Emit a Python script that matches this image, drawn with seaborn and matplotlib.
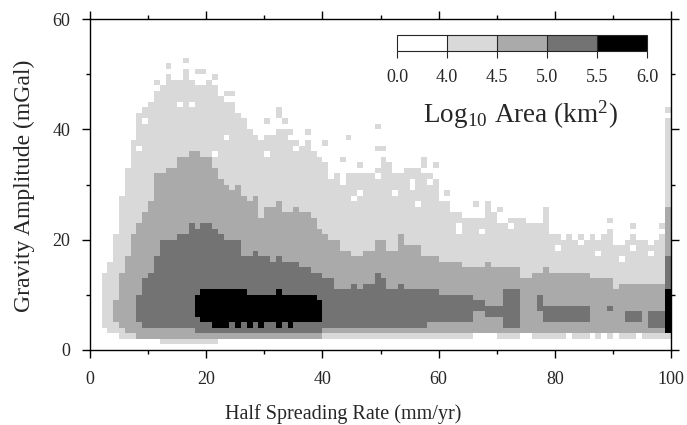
import numpy as np
import pandas as pd
import matplotlib
matplotlib.use("Agg")
import matplotlib as mpl
import matplotlib.pyplot as plt
import seaborn as sns
from matplotlib.colors import ListedColormap, BoundaryNorm

# ---------------- data ----------------
# grid: 1 mm/yr columns (0..99) x 1 mGal rows (0..59)
# per column, rows [bot, top) that reach each log10-area class
top1 = [0, 0, 14, 16, 21, 28, 33, 38, 43, 44, 45, 47, 48, 50, 49, 49, 51, 49, 48, 48,
        49, 48, 46, 45, 45, 43, 42, 40, 39, 39, 39, 39, 40, 40, 38, 38, 37, 38, 36, 35,
        34, 32, 32, 32, 32, 32, 32, 32, 32, 33, 35, 34, 32, 32, 33, 33, 33, 32, 32, 31,
        27, 27, 25, 25, 24, 24, 24, 24, 27, 25, 23, 23, 24, 24, 24, 23, 23, 23, 26, 21,
        21, 20, 21, 20, 21, 20, 21, 20, 21, 22, 19, 19, 20, 21, 20, 20, 19, 20, 21, 42]
bot1 = [0, 0, 4, 3, 3, 2, 2, 2, 2, 2, 2, 2] + [1] * 10 + [2] * 78

top2 = [0, 0, 0, 0, 9, 14, 17, 21, 23, 25, 27, 32, 32, 33, 33, 35, 35, 36, 36, 35,
        35, 33, 31, 30, 29, 30, 28, 27, 28, 24, 26, 26, 27, 25, 25, 26, 25, 25, 24, 22,
        21, 20, 20, 18, 18, 17, 17, 18, 18, 20, 20, 18, 18, 21, 19, 19, 19, 17, 17, 17,
        16, 16, 16, 16, 15, 15, 15, 15, 16, 15, 15, 15, 15, 15, 13, 13, 14, 14, 15, 14,
        14, 14, 14, 14, 14, 14, 13, 13, 13, 13, 11, 12, 12, 12, 12, 12, 12, 12, 12, 26]
bot2 = [0, 0, 0, 0, 5, 4, 3, 3] + [2] * 32 + [3] * 60

top3 = [0, 0, 0, 0, 0, 0, 0, 0, 10, 13, 14, 17, 20, 20, 20, 21, 21, 23, 22, 23,
        23, 22, 21, 20, 20, 20, 17, 17, 18, 17, 17, 16, 17, 16, 16, 16, 15, 15, 14, 14,
        13, 13, 11, 11, 11, 12, 11, 12, 12, 14, 13, 11, 11, 12, 11, 11, 11, 11, 11, 11,
        10, 10, 10, 10, 10, 10, 9, 9, 8, 8, 8, 11, 11, 11, 0, 0, 0, 10, 8, 8,
        8, 8, 8, 8, 8, 8, 0, 0, 0, 8, 0, 0, 7, 7, 7, 0, 7, 7, 7, 17]
bot3 = [0] * 8 + [5] + [4] * 9 + [3] * 22 + [4] * 18 + [5] * 8 + [7, 7, 6, 6, 6, 4, 4, 4,
        0, 0, 0, 7] + [5] * 8 + [0, 0, 0, 7, 0, 0, 5, 5, 5, 0, 4, 4, 4, 3]

top4 = [0] * 18 + [10, 11, 11, 11, 11, 11, 11, 11, 11, 10, 10, 10, 10, 10, 11, 10, 10, 10,
                   10, 10, 10, 9] + [0] * 59 + [11]
bot4 = [0] * 18 + [6, 5, 5, 4, 4, 4, 5, 4, 5, 4, 5, 4, 5, 5, 4, 5, 4, 5,
                   5, 5, 5, 5] + [0] * 59 + [3]

# isolated 4.0-4.5 cells above the envelope and empty cells inside it (column, row)
extra_cells = [(11, 48), (13, 51), (16, 52), (18, 50), (19, 50), (21, 49), (23, 46), (24, 46),
               (30, 41), (32, 42), (32, 43), (33, 41), (34, 39), (37, 39), (40, 37), (44, 38),
               (49, 40), (49, 36), (43, 34), (46, 33), (50, 36), (57, 34), (57, 33), (59, 33),
               (61, 28), (66, 26), (70, 25), (78, 25), (89, 23), (93, 22), (98, 22), (99, 43)]
empty_cells = [(8, 36), (9, 41), (15, 44), (17, 44), (21, 35), (23, 38), (29, 38), (30, 35),
               (35, 36), (41, 31), (43, 30), (43, 31), (45, 27), (46, 28), (49, 31), (52, 28),
               (55, 29), (55, 30), (56, 26), (58, 30), (61, 29), (63, 21), (63, 22), (67, 21),
               (72, 22), (80, 18), (84, 19), (87, 17), (91, 16), (93, 18), (96, 17),
               (66, 2), (67, 2), (68, 2), (69, 2), (74, 2), (75, 2), (82, 2), (86, 2),
               (88, 2), (90, 2), (94, 2)]

rate_ticks = [0, 20, 40, 60, 80, 100]
amp_ticks = [0, 20, 40, 60]
area_bounds = [0.0, 4.0, 4.5, 5.0, 5.5, 6.0]
class_colors = ["#ffffff", "#d9d9d9", "#aaaaaa", "#737373", "#000000"]

# ---------------- build grid ----------------
nx, ny = 100, 60
grid = np.zeros((ny, nx), dtype=int)
for lvl, (bots, tops) in enumerate([(bot1, top1), (bot2, top2), (bot3, top3), (bot4, top4)], start=1):
    for i in range(nx):
        if tops[i] > bots[i]:
            grid[bots[i]:tops[i], i] = np.maximum(grid[bots[i]:tops[i], i], lvl)
for c, r in extra_cells:
    grid[r, c] = max(grid[r, c], 1)
for c, r in empty_cells:
    if grid[r, c] == 1:
        grid[r, c] = 0
df = pd.DataFrame(grid, index=np.arange(ny), columns=np.arange(nx))

# ---------------- plot ----------------
sns.set_style("ticks")
plt.rcParams['font.family'] = ['Liberation Serif', 'DejaVu Serif']
plt.rcParams['mathtext.fontset'] = 'stix'

W, H = 687, 425
fig = plt.figure(figsize=(W / 100, H / 100), dpi=100)
ax = fig.add_axes([90 / W, 1 - 350 / H, 581 / W, 331 / H])
cmap = ListedColormap(class_colors)
sns.heatmap(df, ax=ax, cmap=cmap, vmin=-0.5, vmax=4.5, cbar=False,
            xticklabels=False, yticklabels=False, linewidths=0, rasterized=True)
ax.set_xlim(0, 100)
ax.set_ylim(0, 60)
for s in ax.spines.values():
    s.set_visible(True)
    s.set_linewidth(1.0)
    s.set_color("black")

ax.set_xticks(rate_ticks)
ax.set_xticklabels([str(v) for v in rate_ticks])
ax.set_xticks([10, 30, 50, 70, 90], minor=True)
ax.set_yticks(amp_ticks)
ax.set_yticklabels([str(v) for v in amp_ticks])
ax.set_yticks([10, 30, 50], minor=True)
ax.tick_params(which='major', direction='out', length=6, width=1, top=True, right=True,
               labelsize=13, color='black')
ax.tick_params(axis='x', which='major', pad=9)
ax.tick_params(axis='y', which='major', pad=8)
ax.tick_params(which='minor', direction='out', length=3, width=1, top=True, right=True,
               color='black')
ax.set_xlabel("Half Spreading Rate (mm/yr)", fontsize=14.5)
ax.xaxis.label.set_va('center')
ax.xaxis.set_label_coords(0.435, -0.193)
ax.set_ylabel("Gravity Amplitude (mGal)", fontsize=17)
ax.yaxis.label.set_va('center')
ax.yaxis.set_label_coords(-0.1136, 0.495)

# colour key
cax = fig.add_axes([397 / W, 1 - 51 / H, 250 / W, 16 / H])
norm = BoundaryNorm(area_bounds, len(class_colors))
cb = mpl.colorbar.ColorbarBase(cax, cmap=cmap, norm=norm, orientation='horizontal',
                               spacing='uniform', ticks=area_bounds, drawedges=True)
cb.set_ticklabels([f"{v:.1f}" for v in area_bounds])
cb.outline.set_linewidth(0.8)
cb.dividers.set_linewidth(0.8)
cax.tick_params(direction='out', length=5, width=0.8, labelsize=13, pad=8)
fig.text(521 / W, 1 - 114 / H, r"Log$_{\mathregular{10}}$ Area (km$^{\mathregular{2}}$)",
         fontsize=19.5, ha='center', va='center')

fig.savefig("out.png", dpi=100)
